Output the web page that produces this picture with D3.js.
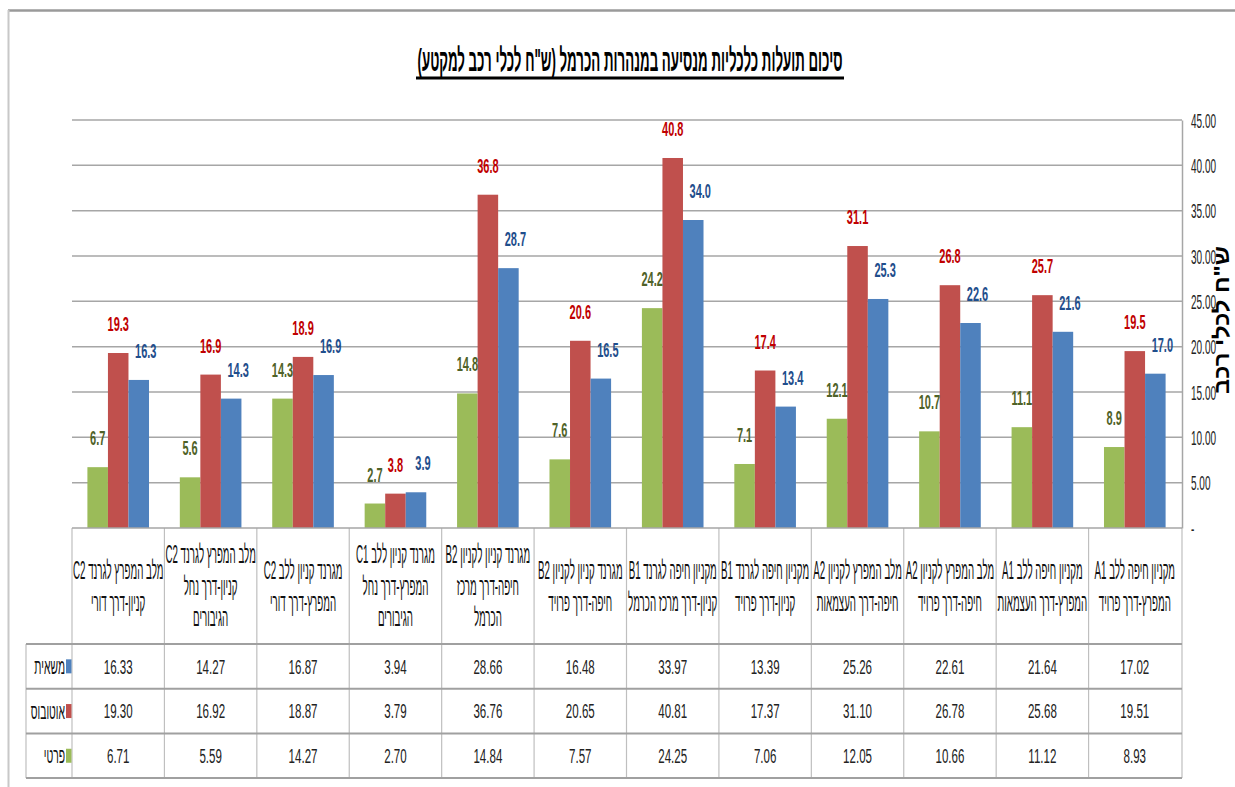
<!DOCTYPE html>
<html lang="he">
<head>
<meta charset="utf-8">
<script src="https://cdn.jsdelivr.net/npm/d3@7/dist/d3.min.js"></script>
<style>
  html, body { margin: 0; padding: 0; background: #ffffff; }
  svg { display: block; font-family: "Liberation Sans", Arial, "DejaVu Sans", sans-serif; }
</style>
</head>
<body>
<svg id="chart" width="1235" height="787"></svg>
<script>
// Route sections (each entry: lines of the category label)
const categories = [
  ["מלב המפרץ לגרנד C2", "קניון-דרך דורי"],
  ["מלב המפרץ לגרנד C2", "קניון-דרך נחל", "הגיבורים"],
  ["מגרנד קניון ללב C2", "המפרץ-דרך דורי"],
  ["מגרנד קניון ללב C1", "המפרץ-דרך נחל", "הגיבורים"],
  ["מגרנד קניון לקניון B2", "חיפה-דרך מרכז", "הכרמל"],
  ["מגרנד קניון לקניון B2", "חיפה-דרך פרויד"],
  ["מקניון חיפה לגרנד B1", "קניון-דרך מרכז הכרמל"],
  ["מקניון חיפה לגרנד B1", "קניון-דרך פרויד"],
  ["מלב המפרץ לקניון A2", "חיפה-דרך העצמאות"],
  ["מלב המפרץ לקניון A2", "חיפה-דרך פרויד"],
  ["מקניון חיפה ללב A1", "המפרץ-דרך העצמאות"],
  ["מקניון חיפה ללב A1", "המפרץ-דרך פרויד"]
];

// Vehicle types
const seriesNames = ["פרטי", "אוטובוס", "משאית"];

// Economic benefit per vehicle (NIS per section)
const privateCars = [6.71, 5.59, 14.27, 2.70, 14.84, 7.57, 24.249, 7.06, 12.05, 10.66, 11.12, 8.93];
const buses       = [19.30, 16.92, 18.87, 3.79, 36.76, 20.649, 40.81, 17.37, 31.10, 26.78, 25.68, 19.51];
const trucks      = [16.33, 14.27, 16.87, 3.94, 28.66, 16.48, 33.97, 13.39, 25.26, 22.61, 21.64, 17.02];

const yTicks = [0, 5, 10, 15, 20, 25, 30, 35, 40, 45];

const chartTitle = "סיכום תועלות כלכליות מנסיעה במנהרות הכרמל (ש\"ח לכלי רכב למקטע)";
const yTitle = "ש\"ח לכלי רכב";

const seriesValues = [privateCars, buses, trucks];
const barColors   = ["#9BBB59", "#C0504D", "#4F81BD"];
const labelColors = ["#4F6228", "#C00000", "#1F4E8C"];
const tableOrder = [2, 1, 0]; // table rows: trucks, buses, private cars

const svg = d3.select("#chart");
const SX = 0.55; // horizontal squeeze for the condensed lettering

const plot = { left: 72, right: 1181, top: 120, bottom: 528 };
const table = { legendLeft: 26, headerBottom: 644, rowH: 44.7 };

const x = d3.scaleBand()
  .domain(d3.range(categories.length))
  .range([plot.left, plot.right])
  .paddingInner(0).paddingOuter(0);

const xs = d3.scaleBand()
  .domain(d3.range(seriesNames.length))
  .range([0, x.bandwidth()])
  .paddingInner(0).paddingOuter(0.75);

const y = d3.scaleLinear().domain([0, 45]).range([plot.bottom, plot.top]);

function squeeze(sel, px, py, sx = SX) {
  return sel.attr("transform", `translate(${px},${py}) scale(${sx},1)`);
}

// outer frame
svg.append("line").attr("x1", 8).attr("x2", 1235).attr("y1", 10.5).attr("y2", 10.5)
  .attr("stroke", "#9a9a9a").attr("stroke-width", 2.5);
svg.append("line").attr("x1", 8.5).attr("x2", 8.5).attr("y1", 10).attr("y2", 787)
  .attr("stroke", "#c8c8c8").attr("stroke-width", 2);

// title
const title = svg.append("text")
  .attr("direction", "rtl")
  .attr("text-anchor", "middle")
  .attr("font-weight", "bold")
  .attr("font-size", 32)
  .attr("fill", "#000")
  .text(chartTitle);
const tW = title.node().getComputedTextLength();
squeeze(title, 630, 71, 425 / tW);
svg.append("line")
  .attr("x1", 630 - 214).attr("x2", 630 + 214)
  .attr("y1", 78).attr("y2", 78)
  .attr("stroke", "#000").attr("stroke-width", 3);

// gridlines
svg.append("g").selectAll("line")
  .data(yTicks.filter(d => d > 0))
  .join("line")
  .attr("x1", plot.left).attr("x2", plot.right + 1)
  .attr("y1", d => y(d)).attr("y2", d => y(d))
  .attr("stroke", "#a6a6a6").attr("stroke-width", 1.5);

// right value axis
const yAxis = d3.axisRight(y).tickValues(yTicks).tickSize(0)
  .tickFormat(d => d === 0 ? "-" : d3.format(".2f")(d));
const yAxisG = svg.append("g")
  .attr("transform", `translate(${plot.right + 1},0)`)
  .call(yAxis);
yAxisG.select(".domain").attr("stroke", "#a6a6a6").attr("stroke-width", 1.5);
yAxisG.selectAll(".tick text")
  .attr("x", 0).attr("dy", "0.35em")
  .attr("font-size", 20)
  .attr("fill", "#222")
  .attr("font-family", "Liberation Sans, Arial, sans-serif")
  .attr("transform", "translate(9,0) scale(0.5,1)");

// value axis title, hugging the right edge
svg.append("text")
  .attr("direction", "rtl")
  .attr("text-anchor", "middle")
  .attr("font-weight", "bold")
  .attr("font-size", 22)
  .attr("fill", "#000")
  .attr("transform", "translate(1229,320) rotate(-90) scale(1.08,1)")
  .text(yTitle);

// bars
const groups = svg.append("g").selectAll("g")
  .data(categories.map((c, i) => i))
  .join("g")
  .attr("transform", i => `translate(${x(i)},0)`);

groups.selectAll("rect")
  .data(i => seriesValues.map((vals, s) => ({ s, v: vals[i] })))
  .join("rect")
  .attr("x", d => xs(d.s))
  .attr("width", xs.bandwidth())
  .attr("y", d => y(d.v))
  .attr("height", d => y(0) - y(d.v))
  .attr("fill", d => barColors[d.s]);

// data labels
const fmt1 = d3.format(".1f");
groups.selectAll("text.lbl")
  .data(i => seriesValues.map((vals, s) => ({ s, v: vals[i] })))
  .join("text")
  .attr("class", "lbl")
  .attr("text-anchor", "middle")
  .attr("font-weight", "bold")
  .attr("font-size", 20)
  .attr("fill", d => labelColors[d.s])
  .text(d => fmt1(d.v))
  .each(function (d) {
    const cx = xs(d.s) + xs.bandwidth() / 2 + (d.s === 2 ? 7 : 0);
    squeeze(d3.select(this), cx, y(d.v) - 22);
  });

// data table
const tg = svg.append("g");
const tableBottom = table.headerBottom + table.rowH * 3;

// vertical dividers
tg.selectAll("line.v")
  .data(d3.range(categories.length + 1))
  .join("line")
  .attr("x1", i => i < categories.length ? x(i) : plot.right + 1)
  .attr("x2", i => i < categories.length ? x(i) : plot.right + 1)
  .attr("y1", plot.bottom).attr("y2", tableBottom)
  .attr("stroke", "#bfbfbf").attr("stroke-width", 1.2);
tg.append("line")
  .attr("x1", table.legendLeft).attr("x2", table.legendLeft)
  .attr("y1", table.headerBottom).attr("y2", tableBottom)
  .attr("stroke", "#bfbfbf").attr("stroke-width", 1.2);

// horizontal rules
tg.append("line")
  .attr("x1", plot.left).attr("x2", plot.right + 1)
  .attr("y1", plot.bottom).attr("y2", plot.bottom)
  .attr("stroke", "#a6a6a6").attr("stroke-width", 1.5);
tg.selectAll("line.h")
  .data(d3.range(4))
  .join("line")
  .attr("x1", table.legendLeft).attr("x2", plot.right + 1)
  .attr("y1", r => table.headerBottom + r * table.rowH)
  .attr("y2", r => table.headerBottom + r * table.rowH)
  .attr("stroke", "#a0a0a0").attr("stroke-width", 2);

// category labels
const headMid = (plot.bottom + table.headerBottom) / 2;
const lineGap = 31.5;
categories.forEach((lines, i) => {
  const cx = x(i) + x.bandwidth() / 2;
  lines.forEach((ln, k) => {
    const cy = headMid + (k - (lines.length - 1) / 2) * lineGap;
    const t = tg.append("text")
      .attr("direction", "rtl")
      .attr("text-anchor", "middle")
      .attr("font-size", 25)
      .attr("fill", "#111")
      .attr("dy", "0.35em")
      .text(ln);
    squeeze(t, cx, cy, 0.39);
  });
});

// table rows
const fmt2 = d3.format(".2f");
tableOrder.forEach((s, r) => {
  const cy = table.headerBottom + r * table.rowH + table.rowH / 2;
  // legend key
  tg.append("rect")
    .attr("x", 66).attr("y", cy - 7)
    .attr("width", 5.5).attr("height", 14)
    .attr("fill", barColors[s]);
  const lt = tg.append("text")
    .attr("text-anchor", "end")
    .attr("font-size", 22)
    .attr("fill", "#111")
    .attr("dy", "0.35em")
    .text(seriesNames[s]);
  squeeze(lt, 65, cy, 0.47);
  // values
  seriesValues[s].forEach((v, i) => {
    const t = tg.append("text")
      .attr("text-anchor", "middle")
      .attr("font-size", 21)
      .attr("fill", "#222")
      .attr("dy", "0.35em")
      .text(fmt2(v));
    squeeze(t, x(i) + x.bandwidth() / 2, cy, 0.55);
  });
});
</script>
</body>
</html>
